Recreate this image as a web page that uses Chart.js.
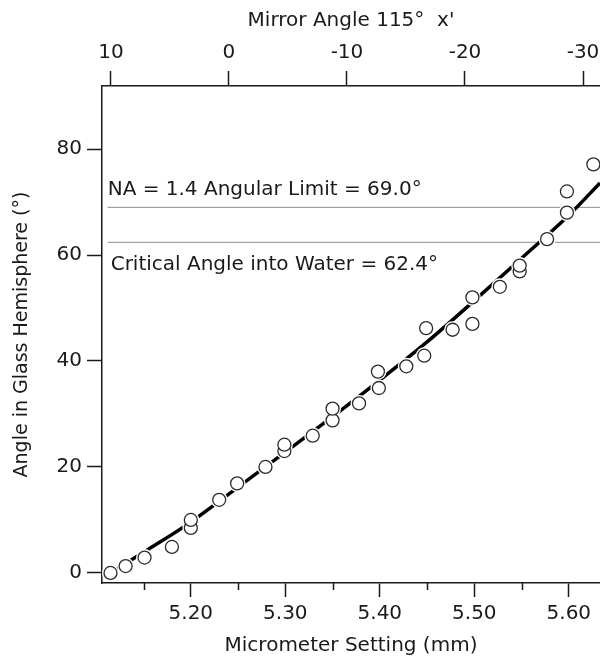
<!DOCTYPE html>
<html>
<head>
<meta charset="utf-8">
<script src="https://cdn.jsdelivr.net/npm/chart.js@4.4.0/dist/chart.umd.min.js"></script>
<style>
  html, body { margin: 0; padding: 0; background: #fff; }
  #wrap { width: 600px; height: 662px; }
</style>
</head>
<body>
<div id="wrap"><canvas id="angleChart" width="600" height="662"></canvas></div>
<script>
// measured points: micrometer setting (mm) and angle in the glass hemisphere (deg)
const micrometer = [5.115, 5.131, 5.151, 5.180, 5.200, 5.200, 5.230, 5.249, 5.279, 5.299,
                    5.299, 5.329, 5.350, 5.350, 5.378, 5.399, 5.398, 5.428, 5.447, 5.449,
                    5.477, 5.498, 5.498, 5.527, 5.548, 5.548, 5.577, 5.598, 5.598, 5.626];
const angle = [0.0, 1.3, 2.9, 4.9, 8.5, 10.0, 13.8, 16.9, 20.0, 23.0,
               24.2, 25.9, 28.8, 31.0, 32.0, 34.9, 38.0, 39.0, 41.0, 46.2,
               45.9, 47.0, 52.0, 54.0, 56.9, 58.0, 63.0, 68.0, 72.0, 77.1];

// calibration curve through the points
const fitX = [5.115, 5.15, 5.20, 5.25, 5.30, 5.35, 5.40, 5.45, 5.50, 5.55, 5.60, 5.633];
const fitY = [0.0, 3.9, 9.6, 16.2, 22.8, 29.5, 36.4, 43.6, 51.4, 59.4, 67.5, 73.6];

// horizontal limit lines
const limitValues = [69.0, 62.4];
const limitLabels = ['NA = 1.4 Angular Limit = 69.0°', 'Critical Angle into Water = 62.4°'];
const limitFrom = 5.112;
const limitTo = 5.633;

// axes
const xRange = [5.106, 5.633];
const yRange = [-1.9, 91.9];
const mirrorRange = [-31.44, 10.76];
const xMajorTicks = [5.20, 5.30, 5.40, 5.50, 5.60];
const xMinorTicks = [5.15, 5.25, 5.35, 5.45, 5.55];
const yTicks = [0, 20, 40, 60, 80];
const mirrorTicks = [10, 0, -10, -20, -30];

const FONT = 'DejaVu Sans';
const INK = '#1a1a1a';

const points = micrometer.map((x, i) => ({ x: x, y: angle[i] }));
const fitLine = fitX.map((x, i) => ({ x: x, y: fitY[i] }));

const limitSets = limitValues.map(v => ({
    type: 'line',
    data: [{ x: limitFrom, y: v }, { x: limitTo, y: v }],
    borderColor: '#8c8c8c',
    borderWidth: 1,
    pointRadius: 0,
    order: 5
}));

// short ticks between the labelled ones on the micrometer axis
const minorTickPlugin = {
    id: 'minorTicks',
    afterDraw(chart) {
        const ctx = chart.ctx;
        const sx = chart.scales.x;
        ctx.save();
        ctx.strokeStyle = INK;
        ctx.lineWidth = 1.5;
        xMinorTicks.forEach(v => {
            const px = Math.round(sx.getPixelForValue(v)) + 0.5;
            ctx.beginPath();
            ctx.moveTo(px, sx.top);
            ctx.lineTo(px, sx.top + 7);
            ctx.stroke();
        });
        ctx.restore();
    }
};

// text for the two limit lines
const limitLabelPlugin = {
    id: 'limitLabels',
    afterDatasetsDraw(chart) {
        const ctx = chart.ctx;
        const sx = chart.scales.x;
        const sy = chart.scales.y;
        ctx.save();
        ctx.font = '20px "' + FONT + '"';
        ctx.fillStyle = INK;
        ctx.textAlign = 'left';
        const x0 = sx.getPixelForValue(limitFrom);
        // first label sits above its line, second one below
        ctx.textBaseline = 'bottom';
        ctx.fillText(limitLabels[0], x0, sy.getPixelForValue(limitValues[0]) - 8);
        ctx.textBaseline = 'top';
        ctx.fillText(limitLabels[1], x0 + 3, sy.getPixelForValue(limitValues[1]) + 12);
        ctx.restore();
    }
};

// the plot runs right up to the canvas edge
const flushRight = s => { s.paddingRight = 0; s.paddingLeft = 0; };

const tickFont = { family: FONT, size: 20 };
const titleFont = { family: FONT, size: 20 };

new Chart(document.getElementById('angleChart'), {
    type: 'scatter',
    data: {
        datasets: [
            {
                data: points,
                pointRadius: 6.5,
                pointBorderWidth: 1.3,
                borderColor: '#2b2b2b',
                backgroundColor: '#ffffff',
                clip: false,
                order: 1
            },
            {
                // white halo so the curve breaks around each circle
                data: points,
                pointRadius: 8.5,
                pointBorderWidth: 0,
                borderColor: '#ffffff',
                backgroundColor: '#ffffff',
                order: 2
            },
            {
                type: 'line',
                data: fitLine,
                borderColor: '#000000',
                borderWidth: 3.5,
                pointRadius: 0,
                cubicInterpolationMode: 'monotone',
                order: 3
            },
            ...limitSets
        ]
    },
    options: {
        responsive: false,
        animation: false,
        devicePixelRatio: 1,
        layout: { padding: 0, autoPadding: false },
        plugins: {
            legend: { display: false },
            tooltip: { enabled: false }
        },
        scales: {
            x: {
                type: 'linear',
                position: 'bottom',
                min: xRange[0],
                max: xRange[1],
                afterBuildTicks: s => { s.ticks = xMajorTicks.map(v => ({ value: v })); },
                afterFit: s => { s.height = 79; flushRight(s); },
                ticks: {
                    font: tickFont,
                    color: INK,
                    padding: 5,
                    maxRotation: 0,
                    callback: v => Number(v).toFixed(2)
                },
                grid: { drawOnChartArea: false, tickLength: 14, tickColor: INK, tickWidth: 1.5 },
                border: { color: INK, width: 1.5 },
                title: {
                    display: true,
                    text: 'Micrometer Setting (mm)',
                    font: titleFont,
                    color: INK,
                    padding: { top: 0, bottom: 4 }
                }
            },
            mirror: {
                type: 'linear',
                position: 'top',
                reverse: true,
                min: mirrorRange[0],
                max: mirrorRange[1],
                afterBuildTicks: s => { s.ticks = mirrorTicks.map(v => ({ value: v })); },
                afterFit: s => { s.height = 86; flushRight(s); },
                ticks: { font: tickFont, color: INK, padding: 6, maxRotation: 0 },
                grid: { drawOnChartArea: false, tickLength: 15, tickColor: INK, tickWidth: 1.5 },
                border: { color: INK, width: 1.5 },
                title: {
                    display: true,
                    text: "Mirror Angle 115°  x'",
                    font: titleFont,
                    color: INK,
                    padding: { top: 9, bottom: 0 }
                }
            },
            y: {
                type: 'linear',
                position: 'left',
                min: yRange[0],
                max: yRange[1],
                afterBuildTicks: s => { s.ticks = yTicks.map(v => ({ value: v })); },
                afterFit: s => { s.width = 102; },
                ticks: { font: tickFont, color: INK, padding: 5 },
                grid: { drawOnChartArea: false, tickLength: 15, tickColor: INK, tickWidth: 1.5 },
                border: { color: INK, width: 1.5 },
                title: {
                    display: true,
                    text: 'Angle in Glass Hemisphere (°)',
                    font: { family: FONT, size: 19 },
                    color: INK,
                    padding: { top: 11, bottom: 0 }
                }
            }
        }
    },
    plugins: [minorTickPlugin, limitLabelPlugin]
});
</script>
</body>
</html>
